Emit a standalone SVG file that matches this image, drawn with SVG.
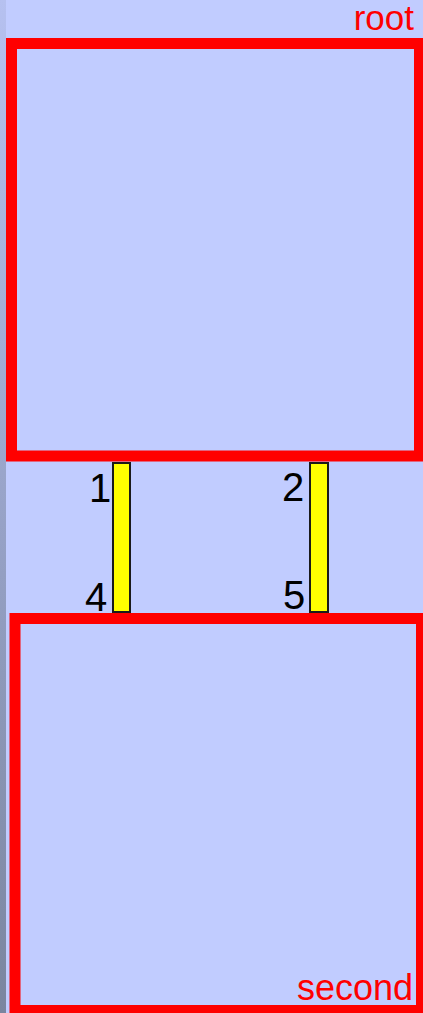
<svg xmlns="http://www.w3.org/2000/svg" width="423" height="1013" viewBox="0 0 423 1013">
<style>
.frame{fill:none;stroke:#ff0000;stroke-width:11}
.lbl{font-family:"Liberation Sans",Arial,sans-serif;font-size:35px;fill:#ff0000}
.num{font-family:"Liberation Sans",Arial,sans-serif;font-size:40px;fill:#000000}
.bar{fill:#ffff00;stroke:#1a1a1a;stroke-width:2}
</style>
<defs>
<linearGradient id="strip" x1="0" y1="0" x2="0" y2="1">
<stop offset="0" stop-color="#b6c1f0"/>
<stop offset="1" stop-color="#7a859f"/>
</linearGradient>
</defs>
<rect x="0" y="0" width="423" height="1013" fill="#c1ccff"/>
<rect x="0" y="0" width="6" height="1013" fill="url(#strip)"/>
<g id="root">
<rect class="frame" x="11.5" y="43.5" width="408" height="412.5"/>
<text class="lbl" x="414" y="30" text-anchor="end">root</text>
</g>
<g id="second">
<rect class="frame" x="15" y="618.5" width="406.5" height="392"/>
<text class="lbl" x="413" y="1000" text-anchor="end" style="font-size:36px">second</text>
</g>
<g id="connectors">
<g id="link1">
<rect class="bar" x="113" y="463" width="17" height="149"/>
<text class="num" x="89" y="502">1</text>
<text class="num" x="85" y="611">4</text>
</g>
<g id="link2">
<rect class="bar" x="310" y="463" width="18" height="149"/>
<text class="num" x="282" y="501">2</text>
<text class="num" x="283" y="609">5</text>
</g>
</g>
</svg>
